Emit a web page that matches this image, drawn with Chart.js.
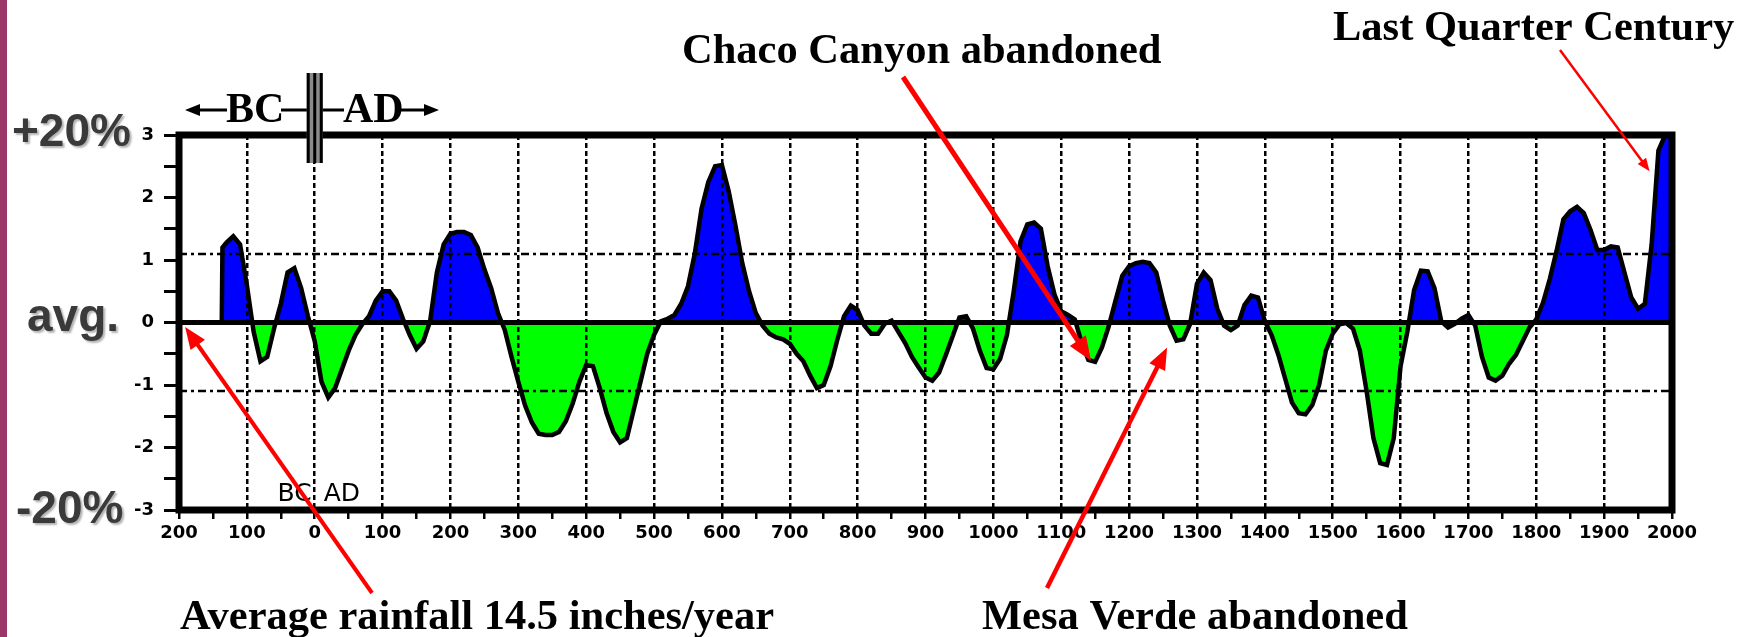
<!DOCTYPE html>
<html>
<head>
<meta charset="utf-8">
<title>Rainfall reconstruction</title>
<script src="https://cdn.jsdelivr.net/npm/chart.js@4.4.0/dist/chart.umd.min.js"></script>
<style>
  html, body { margin: 0; padding: 0; background: #fff; }
  canvas { display: block; }
</style>
</head>
<body>
<canvas id="rainChart" width="1754" height="637"></canvas>
<script>
// year (negative = BC); record starts ~137 BC
const years = [
  -137, -136, -130, -120, -110, -100, -90, -80, -70, -60, -50,
  -40, -30, -20, -10, 0, 10, 20, 30, 40, 50,
  60, 70, 80, 90, 100, 110, 120, 130, 140, 150,
  160, 170, 180, 190, 200, 210, 220, 230, 240, 250,
  260, 270, 280, 290, 300, 310, 320, 330, 340, 350,
  360, 370, 380, 390, 400, 410, 420, 430, 440, 450,
  460, 470, 480, 490, 500, 510, 520, 530, 540, 550,
  560, 570, 580, 590, 600, 610, 620, 630, 640, 650,
  660, 670, 680, 690, 700, 710, 720, 730, 740, 750,
  760, 770, 780, 790, 800, 810, 820, 830, 840, 850,
  860, 870, 880, 890, 900, 910, 920, 930, 940, 950,
  960, 970, 980, 990, 1000, 1010, 1020, 1030, 1040, 1050,
  1060, 1070, 1080, 1090, 1100, 1110, 1120, 1130, 1140, 1150,
  1160, 1170, 1180, 1190, 1200, 1210, 1220, 1230, 1240, 1250,
  1260, 1270, 1280, 1290, 1300, 1310, 1320, 1330, 1340, 1350,
  1360, 1370, 1380, 1390, 1400, 1410, 1420, 1430, 1440, 1450,
  1460, 1470, 1480, 1490, 1500, 1510, 1520, 1530, 1540, 1550,
  1560, 1570, 1580, 1590, 1600, 1610, 1620, 1630, 1640, 1650,
  1660, 1670, 1680, 1690, 1700, 1710, 1720, 1730, 1740, 1750,
  1760, 1770, 1780, 1790, 1800, 1810, 1820, 1830, 1840, 1850,
  1860, 1870, 1880, 1890, 1900, 1910, 1920, 1930, 1940, 1950,
  1960, 1970, 1980, 1990, 2000
];

// departure from average rainfall (std units)
const rainfall = [
  0, 1.2, 1.28, 1.38, 1.25, 0.6, -0.15, -0.62, -0.55, -0.1, 0.3,
  0.8, 0.87, 0.55, 0.1, -0.3, -0.95, -1.2, -1.05, -0.75, -0.45,
  -0.2, -0.03, 0.1, 0.35, 0.5, 0.5, 0.35, 0.06, -0.2, -0.42,
  -0.3, 0.02, 0.8, 1.25, 1.42, 1.45, 1.45, 1.4, 1.2, 0.85,
  0.55, 0.15, -0.12, -0.55, -0.95, -1.33, -1.6, -1.78, -1.8, -1.8,
  -1.75, -1.58, -1.3, -0.95, -0.68, -0.7, -1.05, -1.45, -1.75, -1.92,
  -1.85, -1.4, -0.95, -0.5, -0.2, 0.02, 0.06, 0.12, 0.3, 0.58,
  1.1, 1.82, 2.25, 2.5, 2.52, 2.1, 1.55, 0.95, 0.5, 0.15,
  -0.05, -0.18, -0.24, -0.27, -0.34, -0.5, -0.62, -0.85, -1.05, -1.0,
  -0.7, -0.28, 0.1, 0.27, 0.2, -0.05, -0.18, -0.18, -0.02, 0.03,
  -0.15, -0.33, -0.55, -0.72, -0.88, -0.93, -0.8, -0.52, -0.22, 0.08,
  0.1, -0.1, -0.45, -0.73, -0.75, -0.58, -0.2, 0.5, 1.3, 1.57,
  1.6, 1.5, 0.9, 0.45, 0.18, 0.12, 0.05, -0.32, -0.6, -0.63,
  -0.4, -0.06, 0.35, 0.75, 0.9, 0.95, 0.97, 0.95, 0.8, 0.35,
  -0.05, -0.29, -0.27, -0.02, 0.62, 0.8, 0.68, 0.22, -0.05, -0.12,
  -0.05, 0.28, 0.43, 0.4, 0.02, -0.2, -0.52, -0.9, -1.28, -1.45,
  -1.47, -1.32, -1.0, -0.45, -0.18, -0.03, -0.01, -0.1, -0.45, -1.1,
  -1.85, -2.25, -2.28, -1.85, -0.7, -0.15, 0.52, 0.83, 0.82, 0.55,
  0.02, -0.08, -0.02, 0.06, 0.12, -0.05, -0.55, -0.88, -0.93, -0.85,
  -0.66, -0.52, -0.3, -0.08, 0.05, 0.32, 0.7, 1.15, 1.65, 1.78,
  1.85, 1.75, 1.48, 1.16, 1.16, 1.22, 1.2, 0.8, 0.4, 0.22,
  0.3, 1.25, 2.75, 3.0, 3.0
];

// dash-dot reference lines (about one std dev)
const stdLines = [1.1, -1.1];

// big labels left of the y axis
const sideLabels = ['+20%', 'avg.', '-20%'];
const sideLabelValues = [3, 0, -3];

// callouts: text + the point (year, value) the arrow points to
const calloutTexts = ['Average rainfall 14.5 inches/year', 'Mesa Verde abandoned', 'Chaco Canyon abandoned', 'Last Quarter Century'];
const calloutTargets = [[-191, -0.07], [1256, -0.40], [1144, -0.61], [1967, 2.42]];

function drawArrow(ctx, x1, y1, x2, y2, width, head) {
    const a = Math.atan2(y2 - y1, x2 - x1);
    const c = Math.cos(a), s = Math.sin(a);
    ctx.save();
    ctx.strokeStyle = '#ff0000';
    ctx.fillStyle = '#ff0000';
    ctx.lineWidth = width;
    ctx.beginPath();
    ctx.moveTo(x1, y1);
    ctx.lineTo(x2 - c * head * 0.7, y2 - s * head * 0.7);
    ctx.stroke();
    ctx.beginPath();
    ctx.moveTo(x2, y2);
    ctx.lineTo(x2 - head * c + head * 0.4 * s, y2 - head * s - head * 0.4 * c);
    ctx.lineTo(x2 - head * c - head * 0.4 * s, y2 - head * s + head * 0.4 * c);
    ctx.closePath();
    ctx.fill();
    ctx.restore();
}

const decorPlugin = {
    id: 'decor',
    afterDraw(chart) {
        const ctx = chart.ctx;
        const area = chart.chartArea;
        const xs = chart.scales.x, ys = chart.scales.y;

        ctx.save();
        // std dev lines
        ctx.strokeStyle = '#000';
        ctx.lineWidth = 2.5;
        ctx.setLineDash([8, 4, 3, 4]);
        stdLines.forEach(v => {
            const y = Math.round(ys.getPixelForValue(v));
            ctx.beginPath();
            ctx.moveTo(area.left, y);
            ctx.lineTo(area.right, y);
            ctx.stroke();
        });
        ctx.setLineDash([]);

        // zero line
        const y0 = ys.getPixelForValue(0);
        ctx.lineWidth = 5;
        ctx.beginPath();
        ctx.moveTo(area.left, y0);
        ctx.lineTo(area.right, y0);
        ctx.stroke();

        // plot frame
        ctx.lineWidth = 7;
        ctx.strokeRect(area.left, area.top, area.right - area.left, area.bottom - area.top);

        // magenta slide edge
        ctx.fillStyle = '#9a3668';
        ctx.fillRect(0, 0, 7, chart.height);

        // big side labels
        ctx.font = 'bold 46px "Liberation Sans", Arial, sans-serif';
        ctx.fillStyle = '#3a3a3a';
        ctx.shadowColor = 'rgba(0,0,0,0.3)';
        ctx.shadowOffsetX = 2;
        ctx.shadowOffsetY = 2;
        ctx.shadowBlur = 2;
        ctx.textBaseline = 'alphabetic';
        ctx.textAlign = 'left';
        const sideX = [12, 27, 16];
        const sideDy = [11, 8, 13];
        sideLabels.forEach((t, i) => {
            ctx.fillText(t, sideX[i], ys.getPixelForValue(sideLabelValues[i]) + sideDy[i]);
        });
        ctx.shadowColor = 'transparent';
        ctx.shadowOffsetX = 0;
        ctx.shadowOffsetY = 0;
        ctx.shadowBlur = 0;

        // small BC AD inside plot
        ctx.fillStyle = '#000';
        ctx.font = '25px "DejaVu Sans", sans-serif';
        const xZero = xs.getPixelForValue(0);
        ctx.textAlign = 'right';
        ctx.fillText('BC', xZero - 3, 501);
        ctx.textAlign = 'left';
        ctx.fillText('AD', xZero + 9, 501);

        // <-BC-||-AD-> marker above the plot
        ctx.font = 'bold 42px "Liberation Serif", "Times New Roman", serif';
        ctx.textAlign = 'left';
        ctx.fillText('BC', 226, 122);
        ctx.fillText('AD', 343, 122);
        ctx.lineWidth = 3;
        ctx.strokeStyle = '#000';
        ctx.beginPath();
        ctx.moveTo(196, 110); ctx.lineTo(227, 110);
        ctx.moveTo(281, 110); ctx.lineTo(344, 110);
        ctx.moveTo(401, 110); ctx.lineTo(428, 110);
        ctx.stroke();
        ctx.beginPath();
        ctx.moveTo(185, 110); ctx.lineTo(200, 104); ctx.lineTo(200, 116); ctx.closePath();
        ctx.moveTo(439, 110); ctx.lineTo(424, 104); ctx.lineTo(424, 116); ctx.closePath();
        ctx.fill();
        ctx.fillStyle = '#8a8a8a';
        ctx.fillRect(xZero - 8, 73, 16, 90);
        ctx.fillStyle = '#000';
        ctx.fillRect(xZero - 8, 73, 3, 90);
        ctx.fillRect(xZero - 1.5, 73, 3, 90);
        ctx.fillRect(xZero + 5, 73, 3, 90);

        // callout texts
        ctx.font = 'bold 42.5px "Liberation Serif", "Times New Roman", serif';
        ctx.fillStyle = '#000';
        ctx.fillText(calloutTexts[0], 180, 629);
        ctx.fillText(calloutTexts[1], 982, 629);
        ctx.fillText(calloutTexts[2], 682, 63);
        ctx.fillText(calloutTexts[3], 1333, 40);
        ctx.restore();

        // red arrows
        const tip = i => [xs.getPixelForValue(calloutTargets[i][0]), ys.getPixelForValue(calloutTargets[i][1])];
        let t = tip(0); drawArrow(ctx, 372, 593, t[0], t[1], 4, 22);
        t = tip(1); drawArrow(ctx, 1047, 588, t[0], t[1], 4.5, 22);
        t = tip(2); drawArrow(ctx, 903, 77, t[0], t[1], 5, 24);
        t = tip(3); drawArrow(ctx, 1560, 50, t[0], t[1], 2.5, 13);
    }
};

const points = years.map((yr, i) => ({ x: yr, y: rainfall[i] }));

new Chart(document.getElementById('rainChart'), {
    type: 'line',
    data: {
        datasets: [{
            label: 'Rainfall',
            data: points,
            tension: 0,
            borderColor: '#000',
            borderWidth: 4.5,
            borderJoinStyle: 'miter',
            pointRadius: 0,
            fill: { target: { value: 0 }, above: '#0000ff', below: '#00ff00' }
        }]
    },
    options: {
        responsive: false,
        animation: false,
        devicePixelRatio: 1,
        layout: { padding: { top: 135, right: 82, left: 0, bottom: 0 } },
        plugins: {
            legend: { display: false },
            tooltip: { enabled: false }
        },
        scales: {
            x: {
                type: 'linear',
                min: -200,
                max: 2000,
                afterFit: (scale) => { scale.height = 127; },
                ticks: {
                    stepSize: 50,
                    autoSkip: false,
                    maxRotation: 0,
                    padding: 4,
                    color: '#000',
                    font: { family: '"DejaVu Sans", sans-serif', size: 18, weight: 'bold' },
                    callback: (v) => (v % 100 === 0 ? String(Math.abs(v)) : '')
                },
                grid: {
                    z: 1,
                    lineWidth: 2.5,
                    color: (ctx) => {
                        const v = ctx.tick ? ctx.tick.value : null;
                        return (v !== null && v % 100 === 0 && v > -200 && v < 2000) ? '#000' : 'rgba(0,0,0,0)';
                    },
                    tickColor: '#000',
                    tickLength: 9,
                    tickWidth: 2.5,
                    tickBorderDash: [0, 0]
                },
                border: { display: false, dash: [5, 3] }
            },
            y: {
                min: -3,
                max: 3,
                afterFit: (scale) => { scale.width = 179; },
                ticks: {
                    stepSize: 0.5,
                    autoSkip: false,
                    padding: 10,
                    color: '#000',
                    font: { family: '"DejaVu Sans", sans-serif', size: 18, weight: 'bold' },
                    callback: (v) => (Number.isInteger(v) ? String(v) : '')
                },
                grid: {
                    drawOnChartArea: false,
                    tickColor: '#000',
                    tickLength: 15,
                    tickWidth: 3
                },
                border: { display: false }
            }
        }
    },
    plugins: [decorPlugin]
});
</script>
</body>
</html>
